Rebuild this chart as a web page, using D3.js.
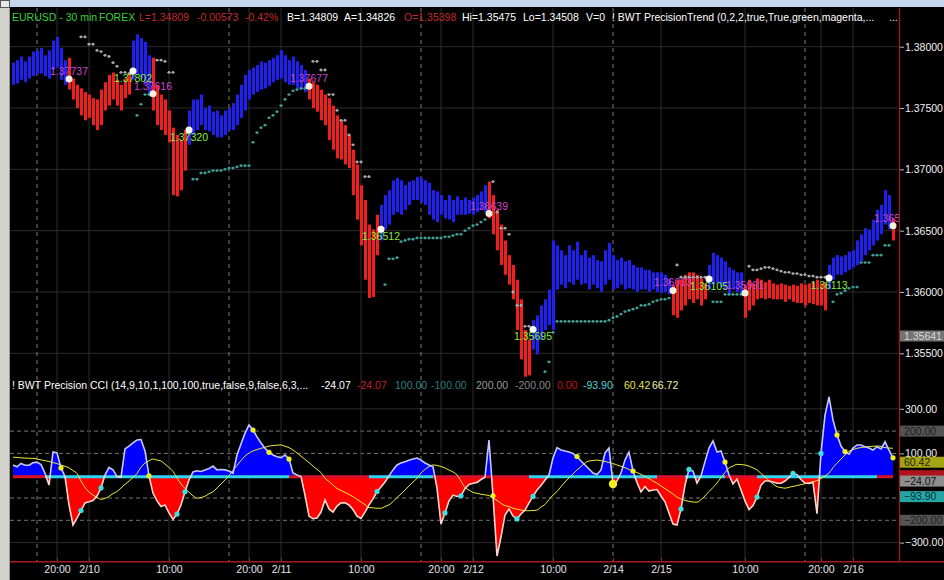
<!DOCTYPE html>
<html><head><meta charset="utf-8">
<script src="https://cdn.jsdelivr.net/npm/d3@7"></script>
<style>
body{margin:0;background:#000;overflow:hidden}
svg{display:block}
text{font-family:"Liberation Sans",Arial,sans-serif;font-size:10.5px}
</style></head>
<body><svg id="c" width="944" height="580"></svg>
<script>
// ---------------- DATA ----------------
const hi=[
1.3787,1.3789,1.3792,1.3788,1.3792,1.3796,1.3797,1.3799,1.3793,1.3797,
1.3805,1.3808,1.3799,1.3789,1.3791,1.3774,1.3769,1.3766,1.3763,1.3761,
1.3758,1.3757,1.3765,1.3771,1.3777,1.3779,1.3773,1.3769,1.3774,1.3779,
1.3805,1.3810,1.3807,1.3804,1.3793,1.3791,1.3769,1.3761,1.3757,1.3748,
1.3734,1.3728,1.3724,1.3732,1.3748,1.3757,1.3757,1.3761,1.3750,1.3752,
1.3747,1.3748,1.3744,1.3748,1.3750,1.3754,1.3761,1.3769,1.3777,1.3781,
1.3783,1.3785,1.3788,1.3787,1.3789,1.3791,1.3793,1.3797,1.3793,1.3789,
1.3792,1.3788,1.3785,1.3781,1.3774,1.3771,1.3769,1.3765,1.3761,1.3758,
1.3752,1.3744,1.3740,1.3736,1.3728,1.3716,1.3704,1.3687,1.3675,1.3655,
1.3651,1.3663,1.3671,1.3679,1.3683,1.3691,1.3693,1.3691,1.3687,1.3690,
1.3691,1.3694,1.3693,1.3691,1.3689,1.3683,1.3682,1.3679,1.3675,1.3679,
1.3675,1.3678,1.3675,1.3677,1.3675,1.3677,1.3679,1.3682,1.3687,1.3690,
1.3679,1.3667,1.3655,1.3642,1.3630,1.3622,1.3610,1.3594,1.3569,1.3561,
1.3577,1.3581,1.3589,1.3594,1.3602,1.3642,1.3638,1.3634,1.3630,1.3638,
1.3634,1.3641,1.3630,1.3634,1.3628,1.3630,1.3626,1.3625,1.3634,1.3640,
1.3630,1.3626,1.3628,1.3625,1.3626,1.3622,1.3620,1.3620,1.3618,1.3618,
1.3616,1.3616,1.3616,1.3614,1.3611,1.3606,1.3610,1.3610,1.3614,1.3616,
1.3616,1.3614,1.3611,1.3607,1.3622,1.3632,1.3630,1.3628,1.3625,1.3620,
1.3618,1.3616,1.3616,1.3606,1.3610,1.3607,1.3611,1.3610,1.3608,1.3610,
1.3607,1.3606,1.3607,1.3606,1.3605,1.3606,1.3605,1.3607,1.3606,1.3607,
1.3608,1.3610,1.3607,1.3608,1.3622,1.3628,1.3630,1.3629,1.3630,1.3633,
1.3634,1.3642,1.3647,1.3652,1.3651,1.3659,1.3667,1.3671,1.3683,1.3679,
1.3660];
const lo=[
1.3769,1.3770,1.3773,1.3771,1.3774,1.3776,1.3778,1.3778,1.3776,1.3774,
1.3781,1.3783,1.3773,1.3769,1.3765,1.3757,1.3750,1.3744,1.3740,1.3742,
1.3736,1.3732,1.3736,1.3748,1.3752,1.3757,1.3752,1.3748,1.3758,1.3761,
1.3773,1.3777,1.3774,1.3769,1.3761,1.3748,1.3736,1.3732,1.3728,1.3722,
1.3679,1.3678,1.3683,1.3699,1.3720,1.3728,1.3732,1.3736,1.3732,1.3731,
1.3728,1.3726,1.3726,1.3728,1.3732,1.3732,1.3736,1.3742,1.3748,1.3757,
1.3761,1.3763,1.3765,1.3766,1.3768,1.3771,1.3773,1.3774,1.3771,1.3769,
1.3769,1.3766,1.3765,1.3763,1.3757,1.3750,1.3747,1.3740,1.3736,1.3724,
1.3716,1.3709,1.3708,1.3704,1.3701,1.3679,1.3659,1.3638,1.3610,1.3595,
1.3596,1.3630,1.3642,1.3651,1.3655,1.3663,1.3665,1.3663,1.3667,1.3671,
1.3675,1.3675,1.3673,1.3671,1.3663,1.3659,1.3657,1.3663,1.3660,1.3659,
1.3657,1.3663,1.3663,1.3663,1.3664,1.3663,1.3665,1.3667,1.3665,1.3660,
1.3647,1.3634,1.3622,1.3614,1.3606,1.3594,1.3569,1.3545,1.3531,1.3532,
1.3553,1.3549,1.3561,1.3569,1.3573,1.3569,1.3602,1.3606,1.3603,1.3608,
1.3606,1.3610,1.3606,1.3607,1.3602,1.3606,1.3603,1.3600,1.3606,1.3610,
1.3602,1.3603,1.3606,1.3602,1.3603,1.3602,1.3600,1.3602,1.3602,1.3600,
1.3602,1.3600,1.3599,1.3600,1.3598,1.3581,1.3579,1.3585,1.3589,1.3594,
1.3591,1.3594,1.3589,1.3594,1.3602,1.3606,1.3607,1.3604,1.3602,1.3598,
1.3602,1.3600,1.3598,1.3579,1.3585,1.3589,1.3594,1.3595,1.3594,1.3595,
1.3594,1.3594,1.3594,1.3592,1.3594,1.3592,1.3591,1.3591,1.3589,1.3591,
1.3590,1.3589,1.3589,1.3585,1.3602,1.3610,1.3614,1.3614,1.3616,1.3618,
1.3620,1.3622,1.3625,1.3630,1.3634,1.3638,1.3642,1.3647,1.3655,1.3651,
1.3642];
// trend signals: [bar, direction, price]
const signals=[[14,'d',1.37737],[30,'u',1.37802],[35,'d',1.37616],[44,'u',1.37320],
[74,'d',1.37677],[92,'u',1.36512],[119,'d',1.36639],[130,'u',1.35695],[165,'d',1.36013],
[174,'u',1.36105],[183,'d',1.35991],[204,'u',1.36113],[220,'d',1.36540]];
// resistance trail (grey) and support trail (teal): [first bar, values...]
const resTrail=[
[17,[1.3808,1.3808,1.3802,1.3802,1.3797,1.3796,1.3793,1.3792,1.3787,1.3784,1.3779,1.3779,1.3778]],
[36,[1.3789,1.3789,1.3788,1.3779,1.3779]],
[75,[1.3788,1.3788,1.3781,1.3781,1.3761,1.3761,1.3748,1.3740,1.3740,1.3728,1.3720,1.3706,1.3706,1.3694,1.3694]],
[120,[1.3690,1.3665,1.3652,1.3652,1.3647,1.3600,1.3589,1.3589,1.3572,1.3572]],
[166,[1.3622,1.3612,1.3612,1.3612,1.3612,1.3612,1.3612,1.3612]],
[184,[1.3621,1.3618,1.3618,1.3619,1.3620,1.3620,1.3619,1.3618,1.3617,1.3616,1.3616,1.3615,1.3615,1.3614,1.3614,1.3613,1.3613,1.3612,1.3612,1.3612]]];
const supTrail=[
[31,[1.3744,1.3753,1.3761,1.3761]],
[45,[1.3692,1.3692,1.3697,1.3697,1.3698,1.3699,1.3699,1.3699,1.3700,1.3701,1.3701,1.3702,1.3703,1.3703,1.3703,
1.3722,1.3730,1.3734,1.3736,1.3742,1.3744,1.3747,1.3752,1.3757,1.3761,1.3764,1.3765,1.3766,1.3766]],
[93,[1.3606,1.3627,1.3627,1.3628,1.3641,1.3642,1.3643,1.3643,1.3644,1.3644,1.3644,1.3644,1.3644,1.3644,1.3644,
1.3645,1.3645,1.3646,1.3647,1.3647,1.3650,1.3652,1.3654,1.3655,1.3657,1.3659]],
[133,[1.3535,1.3543,1.3567,1.3576,1.3576,1.3576,1.3576,1.3576,1.3576,1.3576,1.3576,1.3576,1.3576,1.3576,1.3576,1.3576,
1.3577,1.3579,1.3580,1.3582,1.3584,1.3585,1.3586,1.3587,1.3589,1.3589,1.3590,1.3592,1.3593,1.3594,1.3594,1.3595]],
[175,[1.3592,1.3592,1.3592,1.3598,1.3598,1.3598,1.3598,1.3598]],
[205,[1.3592,1.3598,1.3599,1.3601,1.3603,1.3604,1.3604,1.3624,1.3624,1.3624,1.3630,1.3630,1.3630,1.3638,1.3638]]];
const cci=[
48,40,55,47,47,58,61,50,11,-42,
106,102,35,-4,-131,-221,-190,-156,-122,-117,
-111,-91,-55,3,37,26,-4,-6,120,133,
147,160,162,111,-1,-78,-113,-138,-131,-167,
-196,-172,-131,-72,-19,17,22,19,26,32,
43,26,28,26,21,11,93,142,191,227,
205,174,147,123,105,93,85,81,93,75,
12,3,-4,-87,-181,-193,-190,-163,-109,-149,
-163,-136,-122,-122,-131,-152,-181,-192,-163,-131,
-104,-71,-51,-28,-1,26,48,57,63,69,
75,79,70,57,48,40,-55,-217,-167,-113,
-87,-93,-90,-57,-39,-34,-30,-17,-7,160,
-90,-360,-275,-176,-149,-181,-194,-172,-154,-122,
-93,-64,-44,-19,3,79,126,115,111,106,
100,86,66,48,30,12,5,26,102,124,
-37,-24,12,70,106,21,-30,-73,-49,-69,
-64,-62,-91,-117,-167,-217,-221,-149,-42,28,
21,-33,-1,63,124,156,106,111,61,3,
-37,-15,-64,-113,-152,-134,-96,-42,-24,-24,
-28,-34,-34,-24,-8,10,5,-17,-33,-35,
-30,-170,100,272,353,250,183,133,108,97,
124,138,138,130,124,115,130,120,152,115,
80];
const cciSignal=[
83,82,80,79,78,78,75,71,67,64,
59,54,48,42,35,23,10,-24,-53,-73,
-87,-97,-106,-102,-93,-80,-71,-55,-39,-24,
-8,10,38,57,67,75,70,66,52,37,
19,-10,-37,-57,-74,-90,-101,-98,-92,-81,
-72,-55,-37,-19,0,24,46,68,88,101,
111,117,123,127,133,135,137,138,132,126,
115,102,88,73,59,43,28,14,-12,-26,
-42,-57,-66,-75,-84,-94,-106,-118,-130,-143,
-144,-146,-146,-138,-131,-116,-98,-82,-64,-46,
-28,-12,12,28,41,48,46,41,35,25,
17,3,-24,-53,-64,-75,-79,-83,-86,-89,
-100,-111,-124,-134,-138,-146,-150,-154,-157,-157,
-156,-154,-140,-129,-107,-87,-71,-49,-28,-10,
8,26,41,57,66,68,70,67,64,59,
55,48,42,36,28,21,14,6,-3,-13,
-24,-34,-46,-58,-70,-82,-96,-104,-111,-115,
-118,-119,-107,-91,-71,-53,-33,-8,14,35,
43,51,50,48,43,35,26,10,-6,-22,
-37,-49,-53,-56,-52,-48,-44,-40,-36,-32,
-27,-22,-12,-1,12,36,56,75,93,109,
117,123,126,129,130,132,133,131,126,124,
123];
const yellowDots=[12,34,60,64,69,120,141,150,155,178,206,208,220];
const cyanDots=[17,22,41,43,91,108,112,126,130,167,169,186,195,202];
const bigDot=150;
// zero-line colour runs [from, to, kind]
const zeroRuns=[[0,8,'r'],[8,69,'c'],[69,89,'r'],[89,105,'c'],[105,129,'r'],[129,161,'c'],
[161,168,'r'],[168,178,'c'],[178,186,'r'],[186,216,'c'],[216,220,'r']];
const priceTicks=[1.355,1.36,1.365,1.37,1.375,1.38];
const lastPrice=1.35641;
const cciTicks=[300,100,-300];
const cciDashed=[200,100,-100,-200];
const cciSolid=[300,-300];
const tagVals=[200,0,60.42,-24.07,-93.90,-200];
const timeTicks=[11,19,39,59,67,87,107,115,135,150,162,183,202,210];
const timeLabels=['20:00','2/10','10:00','20:00','2/11','10:00','20:00','2/12','10:00','2/14','2/15','10:00','20:00','2/16'];
const sessionLines=[6,54,102,150,198];

(function(){
// ---------------- LAYOUT ----------------
const PL=10, PR=899, PT=8, PB=380, CT=380, CB=561;
const FONT='"Liberation Sans",Arial,sans-serif';
const svg=d3.select('#c');
const x=d3.scaleLinear().domain([0,220]).range([13,893]);
const yP=d3.scaleLinear().domain([1.355,1.38]).range([353.3,46.7]);
const yC=d3.scaleLinear().domain([-300,300]).range([542.6,408.8]);
const y0=yC(0);

svg.append('rect').attr('width',944).attr('height',580).attr('fill','#000');
svg.append('rect').attr('x',0).attr('y',0).attr('width',944).attr('height',7).attr('fill','#c3d6ee');
svg.append('rect').attr('x',0).attr('y',0).attr('width',10).attr('height',580).attr('fill','#d4d2cd');
svg.append('line').attr('x1',9.5).attr('x2',9.5).attr('y1',0).attr('y2',580).attr('stroke','#9a9a9a');
svg.append('rect').attr('x',0.5).attr('y',0.5).attr('width',9).attr('height',7).attr('fill','#e8e8e8').attr('stroke','#555');

const defs=svg.append('defs');
function clip(id,x0,yy,w,h){defs.append('clipPath').attr('id',id).append('rect').attr('x',x0).attr('y',yy).attr('width',w).attr('height',h);}
clip('ctop',PL,PT,PR-PL,PB-PT);
clip('cbot',PL,CT,PR-PL,CB-CT);
clip('cpos',PL,CT,PR-PL,y0-CT);
clip('cneg',PL,y0,PR-PL,CB-y0);
const grad=defs.append('linearGradient').attr('id','gl').attr('gradientUnits','userSpaceOnUse')
 .attr('x1',0).attr('x2',0).attr('y1',CT).attr('y2',CB);
const off=(y0-CT)/(CB-CT);
grad.append('stop').attr('offset',off).attr('stop-color','#c4c8ff');
grad.append('stop').attr('offset',off).attr('stop-color','#ffd6cc');

// ---------------- GRID ----------------
const grid=svg.append('g');
priceTicks.forEach(t=>grid.append('line').attr('x1',PL).attr('x2',PR).attr('y1',yP(t)).attr('y2',yP(t)).attr('stroke','#2c2c2c'));
cciSolid.forEach(t=>grid.append('line').attr('x1',PL).attr('x2',PR).attr('y1',yC(t)).attr('y2',yC(t)).attr('stroke','#2c2c2c'));
cciDashed.forEach(t=>grid.append('line').attr('x1',PL).attr('x2',PR).attr('y1',yC(t)).attr('y2',yC(t)).attr('stroke','#767676').attr('stroke-dasharray','4,3'));
timeTicks.filter(t=>!sessionLines.includes(t)).forEach(t=>grid.append('line').attr('x1',x(t)).attr('x2',x(t)).attr('y1',PT).attr('y2',CB).attr('stroke','#2c2c2c'));
sessionLines.forEach(t=>grid.append('line').attr('x1',x(t)).attr('x2',x(t)).attr('y1',PT).attr('y2',CB).attr('stroke','#7a7a7a').attr('stroke-dasharray','4,4'));

// ---------------- PRICE PANEL ----------------
const topG=svg.append('g').attr('clip-path','url(#ctop)');
const sigMap=new Map(signals.map(s=>[s[0],s]));
let dir='u';
const bars=hi.map((h,i)=>{ if(sigMap.has(i)) dir=sigMap.get(i)[1]; return {i,h,l:lo[i],dir}; });
topG.selectAll('rect.bar').data(bars).join('rect').attr('class','bar')
 .attr('x',d=>x(d.i)-1).attr('width',3)
 .attr('y',d=>yP(d.h)).attr('height',d=>Math.max(1,yP(d.l)-yP(d.h)))
 .attr('fill',d=>d.dir==='u'?'#2020f4':'#f41e1e');

function trail(segs,color){
  segs.forEach(([s,vals])=>{
    const pts=vals.map((v,k)=>[x(s+k),yP(v)]);
    topG.selectAll(null).data(pts).join('rect').attr('x',d=>d[0]-2).attr('y',d=>d[1]-0.5).attr('width',4).attr('height',1)
      .attr('fill',color).attr('opacity',0.55);
    topG.selectAll(null).data(pts).join('circle').attr('cx',d=>d[0]).attr('cy',d=>d[1]).attr('r',1.4).attr('fill',color);
  });
}
trail(resTrail,'#a8a8a8');
trail(supTrail,'#3f9e94');

signals.forEach(([i,d,p])=>{
  topG.append('circle').attr('cx',x(i)).attr('cy',yP(p)).attr('r',3.5).attr('fill',d==='u'?'#ffffff':'#f2f0dc');
  topG.append('text').attr('x',x(i)).attr('y',d==='u'?yP(p)+11:yP(p)-4).attr('text-anchor','middle')
   .attr('font-size','10.5px').attr('fill',d==='u'?'#86ee3c':'#cc46d0').text(d3.format('.5f')(p));
});

// ---------------- CCI PANEL ----------------
const botG=svg.append('g').attr('clip-path','url(#cbot)');
const area=d3.area().x((d,i)=>x(i)).y0(y0).y1(d=>yC(d));
botG.append('path').attr('d',area(cci)).attr('fill','#0000ff').attr('clip-path','url(#cpos)');
botG.append('path').attr('d',area(cci)).attr('fill','#ff0000').attr('clip-path','url(#cneg)');
zeroRuns.forEach(([a,b,k])=>botG.append('line').attr('x1',x(a)).attr('x2',x(b)).attr('y1',y0+1).attr('y2',y0+1)
  .attr('stroke',k==='c'?'#2cd6f2':'#d8102c').attr('stroke-width',3));
botG.append('path').attr('d',d3.line().x((d,i)=>x(i)).y(d=>yC(d)).curve(d3.curveMonotoneX)(cciSignal))
 .attr('fill','none').attr('stroke','#e8e838').attr('stroke-width',1);
botG.append('path').attr('d',d3.line().x((d,i)=>x(i)).y(d=>yC(d))(cci))
 .attr('fill','none').attr('stroke','url(#gl)').attr('stroke-width',1.6);
cyanDots.forEach(i=>botG.append('circle').attr('cx',x(i)).attr('cy',yC(cci[i])).attr('r',2.6).attr('fill','#3ee0e0'));
yellowDots.forEach(i=>botG.append('circle').attr('cx',x(i)).attr('cy',yC(cci[i])).attr('r',i===bigDot?4.2:2.6).attr('fill','#f0f020'));

// ---------------- AXES ----------------
function styleAxis(g){
  g.select('.domain').remove();
  g.selectAll('.tick line').attr('stroke','#bdbdbd');
  g.selectAll('.tick text').attr('fill','#f2f2f2').attr('font-size','10.5px').attr('font-family',FONT);
}
svg.append('g').attr('transform',`translate(${PR},0)`)
 .call(d3.axisRight(yP).tickValues(priceTicks).tickFormat(d3.format('.5f')).tickSize(5).tickPadding(1)).call(styleAxis);
svg.append('g').attr('transform',`translate(${PR},0)`)
 .call(d3.axisRight(yC).tickValues(cciTicks).tickFormat(d3.format('.2f')).tickSize(5).tickPadding(1)).call(styleAxis);
const tx=svg.append('g').attr('transform','translate(0,562)')
 .call(d3.axisBottom(x).tickValues(timeTicks).tickFormat((d,i)=>timeLabels[i]).tickSizeInner(-4).tickSizeOuter(0).tickPadding(4));
tx.select('.domain').remove();
tx.selectAll('.tick line').attr('stroke','#a02020');
tx.selectAll('.tick text').attr('fill','#e6e6e6').attr('font-size','10.5px').attr('font-family',FONT);

// price tag
svg.append('rect').attr('x',PR+1).attr('y',yP(lastPrice)-5.5).attr('width',44).attr('height',11).attr('fill','#747474');
svg.append('text').attr('x',PR+5).attr('y',yP(lastPrice)+3.8).attr('font-size','10.5px').attr('fill','#d8d8d8').text(d3.format('.5f')(lastPrice));
// cci tags (the zero tag is drawn as a bare red band, hidden under its neighbours)
const tagBg=['#545454','#b0121e','#a4a414','#8e8e8e','#24a6a6','#545454'];
const tagFg=['#1e1e1e',null,'#1e1e00','#101010','#003030','#1e1e1e'];
tagVals.forEach((v,k)=>{
  svg.append('rect').attr('x',PR+1).attr('y',yC(v)-5.5).attr('width',44).attr('height',11).attr('fill',tagBg[k]);
  if(tagFg[k]) svg.append('text').attr('x',PR+5).attr('y',yC(v)+3.6).attr('font-size','10px').attr('fill',tagFg[k]).text(d3.format('.2f')(v));
});

// red frame lines
svg.append('line').attr('x1',PR+0.5).attr('x2',PR+0.5).attr('y1',PT).attr('y2',562).attr('stroke','#a41c1c').attr('stroke-width',1.2);
svg.append('line').attr('x1',PL).attr('x2',944).attr('y1',561.8).attr('y2',561.8).attr('stroke','#a41c1c').attr('stroke-width',1.6);

// ---------------- HEADERS ----------------
const hdr=[[12,'EURUSD - 30 min','#3ccf3c'],[99,'FOREX','#3ccf3c'],[139,'L=1.34809','#c42a2a'],[197,'-0.00573','#c42a2a'],
[245,'-0.42%','#c42a2a'],[287,'B=1.34809','#ffffff'],[344,'A=1.34826','#ffffff'],[404,'O=1.35398','#c42a2a'],
[462,'Hi=1.35475','#ffffff'],[523,'Lo=1.34508','#ffffff'],[586,'V=0','#ffffff'],
[612,'! BWT PrecisionTrend (0,2,2,true,True,green,magenta,...','#ffffff'],[889,'...','#ffffff']];
const h1=svg.append('text').attr('y',20.5).attr('font-size','10.3px');
hdr.forEach(([px,t,c])=>h1.append('tspan').attr('x',px).attr('fill',c).text(t));
const hdr2=[[12,'! BWT Precision CCI (14,9,10,1,100,100,true,false,9,false,6,3,...','#ffffff'],[321,'-24.07','#ffffff'],
[357,'-24.07','#c42020'],[395,'100.00','#2f8282'],[431,'-100.00','#2f7a7a'],[476,'200.00','#9a9a9a'],
[515,'-200.00','#8a8a8a'],[557,'0.00','#c41010'],[583,'-93.90','#52d2d2'],[624,'60.42','#e2e252'],[652,'66.72','#f2f2b4']];
const h2=svg.append('text').attr('y',388.5).attr('font-size','10.3px');
hdr2.forEach(([px,t,c])=>h2.append('tspan').attr('x',px).attr('fill',c).text(t));
})();
</script></body></html>
